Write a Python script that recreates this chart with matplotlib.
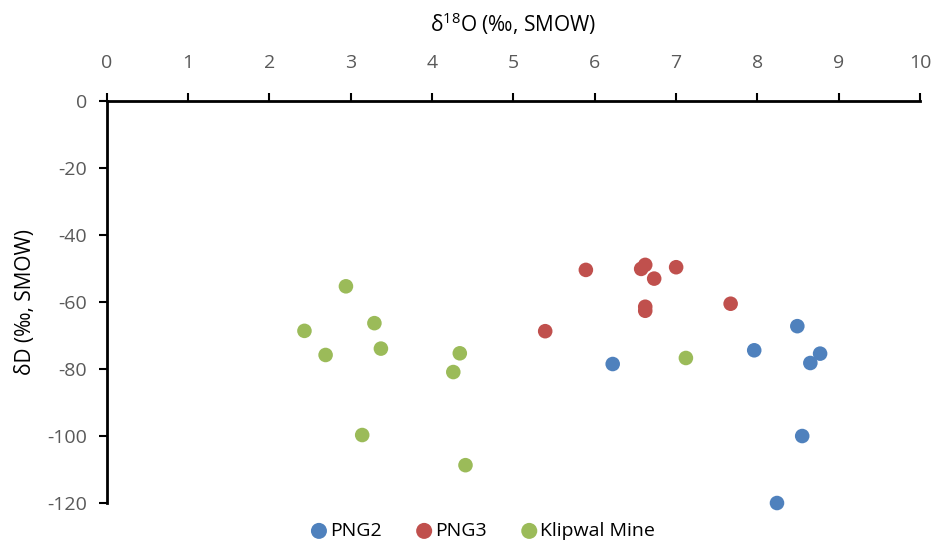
import matplotlib
matplotlib.use("Agg")
import matplotlib.pyplot as plt

plt.rcParams['font.family'] = ['Open Sans', 'DejaVu Sans']
plt.rcParams['mathtext.fontset'] = 'custom'
plt.rcParams['mathtext.rm'] = 'Open Sans'
plt.rcParams['axes.unicode_minus'] = False

# delta18O / deltaD values per locality
png2_x = [6.22, 7.96, 8.49, 8.77, 8.65, 8.55, 8.24]
png2_y = [-78.5, -74.4, -67.2, -75.4, -78.2, -100.0, -120.0]

png3_x = [5.89, 6.57, 6.62, 6.73, 7.00, 6.62, 6.62, 7.67, 5.39]
png3_y = [-50.4, -50.1, -48.9, -53.0, -49.6, -61.4, -62.6, -60.5, -68.7]

klip_x = [2.94, 3.29, 2.43, 3.37, 2.69, 4.34, 4.26, 3.14, 4.41, 7.12]
klip_y = [-55.3, -66.3, -68.6, -73.9, -75.8, -75.3, -80.9, -99.7, -108.7, -76.7]

series = [
    ("PNG2", png2_x, png2_y, "#4f81bd"),
    ("PNG3", png3_x, png3_y, "#c0504d"),
    ("Klipwal Mine", klip_x, klip_y, "#9bbb59"),
]

fig = plt.figure(figsize=(9.37, 5.47), dpi=100)
ax = fig.add_axes([0.114, 0.0804, 0.868, 0.7348])

for name, xs, ys, col in series:
    ax.scatter(xs, ys, s=110, color=col, label=name, edgecolors='none',
               zorder=3, clip_on=False)

ax.set_xlim(0, 10)
ax.set_ylim(-120, 0)
ax.set_xticks(range(0, 11))
ax.set_yticks(range(-120, 1, 20))

ax.xaxis.tick_top()
ax.xaxis.set_label_position('top')
for s in ['right', 'bottom']:
    ax.spines[s].set_visible(False)
for s in ['top', 'left']:
    ax.spines[s].set_linewidth(2)
    ax.spines[s].set_color('black')

ax.tick_params(axis='both', direction='out', length=6, width=1.5,
               labelsize=14, labelcolor='#595959', color='black')
ax.tick_params(axis='x', pad=15)
ax.tick_params(axis='y', pad=8)

ax.set_xlabel('δ$^{18}$O (‰, SMOW)', fontsize=15, color='black', labelpad=16)
ax.set_ylabel('δD (‰, SMOW)', fontsize=15, color='black', labelpad=8)

fig.legend(loc='center', bbox_to_anchor=(483 / 937, 1 - 531 / 547), ncol=3,
           frameon=False, fontsize=14, handletextpad=0.15, columnspacing=1.8,
           handlelength=0.8, markerscale=1.1)

fig.savefig('out.png', dpi=100)
